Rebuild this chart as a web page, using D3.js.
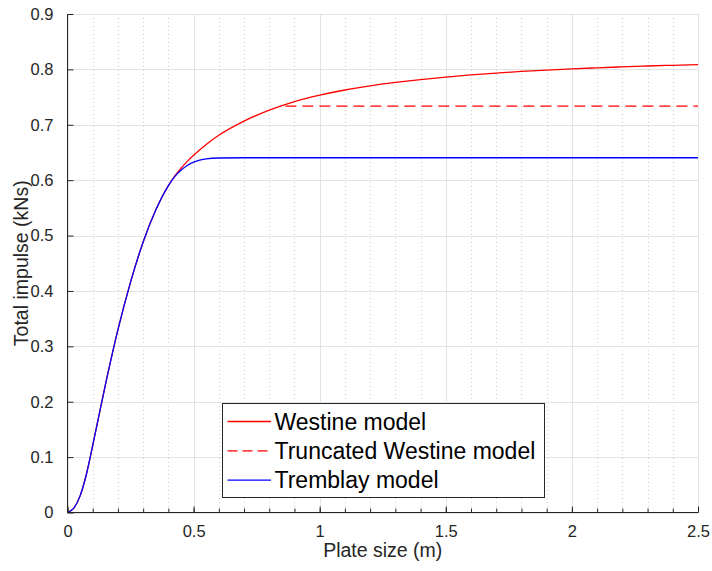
<!DOCTYPE html>
<html>
<head>
<meta charset="utf-8">
<script src="https://cdn.jsdelivr.net/npm/d3@7/dist/d3.min.js"></script>
<style>
  html, body { margin: 0; padding: 0; background: #fff; }
  svg { display: block; }
  text { font-family: "Liberation Sans", Arial, Helvetica, sans-serif; }
</style>
</head>
<body>
<svg id="chart" width="712" height="571"></svg>
<script>
// ---- Data ----
const plateSize = [0, 0.025, 0.05, 0.075, 0.1, 0.15, 0.2, 0.25, 0.3, 0.35, 0.4, 0.425, 0.45, 0.475,
  0.5, 0.55, 0.6, 0.7, 0.8, 0.9, 1.0, 1.1, 1.2, 1.3, 1.4, 1.5, 1.6, 1.7, 1.8, 1.9, 2.0, 2.1, 2.2,
  2.3, 2.4, 2.5];
const westine = [0, 0.008, 0.030, 0.069, 0.121, 0.230, 0.330, 0.416, 0.4885, 0.546, 0.590, 0.6075,
  0.6215, 0.634, 0.645, 0.6645, 0.681, 0.7065, 0.7265, 0.742, 0.7535, 0.7628, 0.7703, 0.7764, 0.7817,
  0.7862, 0.7900, 0.7934, 0.7963, 0.7988, 0.8010, 0.8029, 0.8046, 0.8061, 0.8074, 0.8085];
const tremblay = [0, 0.008, 0.030, 0.069, 0.121, 0.230, 0.330, 0.416, 0.4885, 0.546, 0.590, 0.6065,
  0.618, 0.6265, 0.6325, 0.6385, 0.6400, 0.6405, 0.6405, 0.6405, 0.6405, 0.6405, 0.6405, 0.6405, 0.6405,
  0.6405, 0.6405, 0.6405, 0.6405, 0.6405, 0.6405, 0.6405, 0.6405, 0.6405, 0.6405, 0.6405];
const truncatedX = [0.864, 2.5];
const truncatedY = [0.7335, 0.7335];
const xTicks = [0, 0.5, 1, 1.5, 2, 2.5];
const xTickLabels = ["0", "0.5", "1", "1.5", "2", "2.5"];
const xMinorTicks = [0, 0.1, 0.2, 0.3, 0.4, 0.5, 0.6, 0.7, 0.8, 0.9, 1.0, 1.1, 1.2, 1.3, 1.4, 1.5,
  1.6, 1.7, 1.8, 1.9, 2.0, 2.1, 2.2, 2.3, 2.4, 2.5];
const yTicks = [0, 0.1, 0.2, 0.3, 0.4, 0.5, 0.6, 0.7, 0.8, 0.9];
const yTickLabels = ["0", "0.1", "0.2", "0.3", "0.4", "0.5", "0.6", "0.7", "0.8", "0.9"];
const legendLabels = ["Westine model", "Truncated Westine model", "Tremblay model"];

// ---- Layout ----
const svg = d3.select("#chart");
const mLeft = 67.5, mRight = 698, mTop = 14, mBottom = 512.5;
const x = d3.scaleLinear().domain([0, 2.5]).range([mLeft, mRight]);
const y = d3.scaleLinear().domain([0, 0.9]).range([mBottom, mTop]);
const axisColor = "#262626";

// grid: minor x (dotted)
svg.append("g").selectAll("line").data(xMinorTicks.filter(v => !xTicks.some(t => Math.abs(t - v) < 1e-9)))
  .join("line")
  .attr("x1", d => Math.round(x(d)) + 0.5).attr("x2", d => Math.round(x(d)) + 0.5)
  .attr("y1", mTop).attr("y2", mBottom)
  .attr("stroke", "#cfcfcf").attr("stroke-width", 1).attr("stroke-dasharray", "1,3");

// major grid
svg.append("g").selectAll("line").data(xTicks).join("line")
  .attr("x1", d => Math.round(x(d)) + 0.5).attr("x2", d => Math.round(x(d)) + 0.5)
  .attr("y1", mTop).attr("y2", mBottom)
  .attr("stroke", "#e3e3e3").attr("stroke-width", 1);
svg.append("g").selectAll("line").data(yTicks).join("line")
  .attr("y1", d => Math.round(y(d)) + 0.5).attr("y2", d => Math.round(y(d)) + 0.5)
  .attr("x1", mLeft).attr("x2", mRight)
  .attr("stroke", "#e3e3e3").attr("stroke-width", 1);

// curves
const line = d3.line().x(d => x(d[0])).y(d => y(d[1])).curve(d3.curveMonotoneX);
const plot = svg.append("g");
plot.append("path").datum(plateSize.map((v, i) => [v, westine[i]]))
  .attr("d", line).attr("fill", "none").attr("stroke", "#ff0000").attr("stroke-width", 1.3);
plot.append("path").datum(truncatedX.map((v, i) => [v, truncatedY[i]]))
  .attr("d", line).attr("fill", "none").attr("stroke", "#ff0000").attr("stroke-width", 1.3)
  .attr("stroke-dasharray", "11,6");
plot.append("path").datum(plateSize.map((v, i) => [v, tremblay[i]]))
  .attr("d", line).attr("fill", "none").attr("stroke", "#0000ff").attr("stroke-width", 1.3);

// axes
const xAxis = svg.append("g").attr("transform", `translate(0,${mBottom})`);
xAxis.call(d3.axisBottom(x).tickValues(xTicks).tickFormat((d, i) => xTickLabels[i]).tickSize(-6).tickPadding(13));
xAxis.select(".domain").attr("d", `M${mLeft},0H${mRight}`).attr("stroke", axisColor);
xAxis.selectAll(".tick line").attr("stroke", axisColor);
xAxis.selectAll(".tick text").attr("fill", axisColor).attr("font-size", 16.5)
  .attr("font-family", "Liberation Sans, Arial, sans-serif");
const xMinorG = svg.append("g").attr("transform", `translate(0,${mBottom})`);
xMinorG.call(d3.axisBottom(x).tickValues(xMinorTicks).tickFormat("").tickSize(-4));
xMinorG.select(".domain").remove();
xMinorG.selectAll(".tick line").attr("stroke", axisColor);

const yAxis = svg.append("g").attr("transform", `translate(${mLeft},0)`);
yAxis.call(d3.axisLeft(y).tickValues(yTicks).tickFormat((d, i) => yTickLabels[i]).tickSize(-6).tickPadding(14));
yAxis.select(".domain").attr("d", `M0,${mTop}V${mBottom}`).attr("stroke", axisColor);
yAxis.selectAll(".tick line").attr("stroke", axisColor);
yAxis.selectAll(".tick text").attr("fill", axisColor).attr("font-size", 16.5)
  .attr("font-family", "Liberation Sans, Arial, sans-serif");

// axis labels
svg.append("text").attr("x", (mLeft + mRight) / 2).attr("y", 557).attr("text-anchor", "middle")
  .attr("font-size", 19.5).attr("fill", axisColor).text("Plate size (m)");
svg.append("text").attr("transform", `translate(28,${(mTop + mBottom) / 2}) rotate(-90)`)
  .attr("text-anchor", "middle").attr("font-size", 19.5).attr("fill", axisColor).text("Total impulse (kNs)");

// legend
const lg = svg.append("g");
lg.append("rect").attr("x", 222.5).attr("y", 403.5).attr("width", 322).attr("height", 94)
  .attr("fill", "#fff").attr("stroke", axisColor).attr("stroke-width", 1);
const styles = [
  { color: "#ff0000", dash: null },
  { color: "#ff0000", dash: "10,5" },
  { color: "#0000ff", dash: null }
];
legendLabels.forEach((lab, i) => {
  const cy = 421.5 + i * 29.3;
  lg.append("line").attr("x1", 227.5).attr("x2", 271).attr("y1", cy).attr("y2", cy)
    .attr("stroke", styles[i].color).attr("stroke-width", 1.3)
    .attr("stroke-dasharray", styles[i].dash);
  lg.append("text").attr("x", 274.5).attr("y", cy).attr("dy", "0.36em")
    .attr("font-size", 23).attr("fill", "#000").text(lab);
});
</script>
</body>
</html>
